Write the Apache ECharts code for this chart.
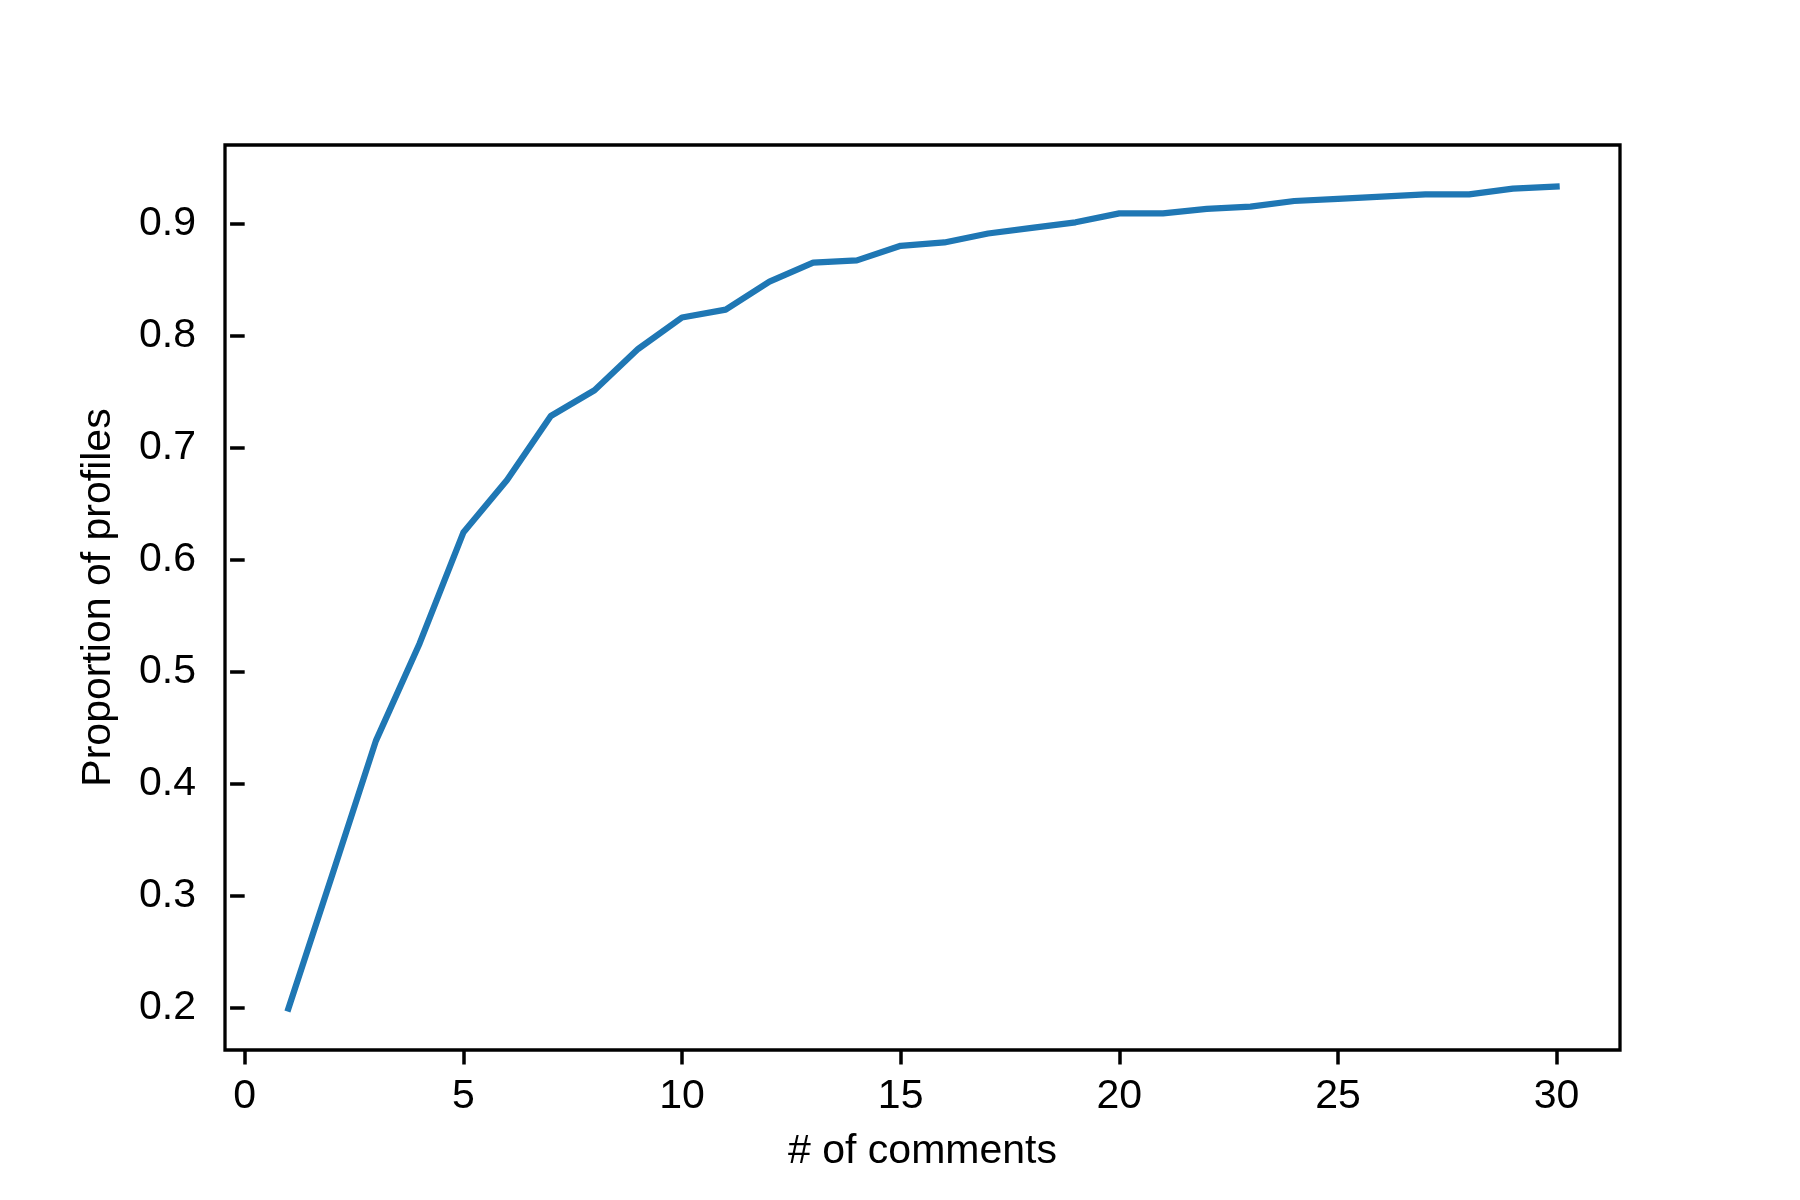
<!DOCTYPE html>
<html>
<head>
<meta charset="utf-8">
<title>Proportion of profiles</title>
<script src="https://cdn.jsdelivr.net/npm/echarts@6/dist/echarts.min.js"></script>
<style>
  html, body { margin: 0; padding: 0; background: #fff; }
  #chart { width: 1800px; height: 1200px; }
</style>
</head>
<body>
<div id="chart"></div>
<script>
// # of comments
const numComments = [1, 2, 3, 4, 5, 6, 7, 8, 9, 10, 11, 12, 13, 14, 15,
  16, 17, 18, 19, 20, 21, 22, 23, 24, 25, 26, 27, 28, 29, 30]
// proportion of profiles
const proportion = [0.199, 0.318, 0.438, 0.525, 0.624, 0.671, 0.728, 0.751, 0.788, 0.816,
  0.823, 0.848, 0.865, 0.867, 0.880, 0.883, 0.891, 0.896, 0.901, 0.909,
  0.909, 0.913, 0.915, 0.920, 0.922, 0.924, 0.926, 0.926, 0.931, 0.933]
// tick labels
const xTicks = [0, 5, 10, 15, 20, 25, 30]
const yTicks = [0.2, 0.3, 0.4, 0.5, 0.6, 0.7, 0.8, 0.9]

const font = 'Liberation Sans, Arial, sans-serif'
const myChart = echarts.init(document.getElementById('chart'), null, { renderer: 'canvas' })

myChart.setOption({
  animation: false,
  backgroundColor: '#fff',
  grid: {
    left: 225, right: 180, top: 145, bottom: 150,
    show: true,
    borderColor: '#000',
    borderWidth: 3.3,
    backgroundColor: 'transparent'
  },
  xAxis: {
    type: 'value',
    min: -0.45,
    max: 31.45,
    name: '# of comments',
    nameLocation: 'middle',
    nameGap: 81,
    nameTextStyle: { color: '#000', fontSize: 41, fontFamily: font },
    axisLine: { show: false },
    splitLine: { show: false },
    axisTick: {
      show: true, inside: false, length: 14.6,
      customValues: xTicks,
      lineStyle: { color: '#000', width: 3.5 }
    },
    axisLabel: {
      margin: 26,
      customValues: xTicks,
      color: '#000', fontSize: 41, fontFamily: font
    }
  },
  yAxis: {
    type: 'value',
    min: 0.162,
    max: 0.970,
    name: 'Proportion of profiles',
    nameLocation: 'middle',
    nameGap: 106,
    nameTextStyle: { color: '#000', fontSize: 41, fontFamily: font },
    axisLine: { show: false },
    splitLine: { show: false },
    axisTick: {
      show: true, inside: false, length: 14.6,
      customValues: yTicks,
      lineStyle: { color: '#000', width: 3.5 }
    },
    axisLabel: {
      margin: 29,
      customValues: yTicks,
      formatter: (v) => v.toFixed(1),
      color: '#000', fontSize: 41, fontFamily: font
    }
  },
  series: [
    {
      type: 'line',
      data: numComments.map((n, i) => [n, proportion[i]]),
      showSymbol: false,
      symbol: 'none',
      lineStyle: { color: '#1f77b4', width: 6.25, cap: 'square', join: 'round' },
      itemStyle: { color: '#1f77b4' }
    }
  ]
})
</script>
</body>
</html>
